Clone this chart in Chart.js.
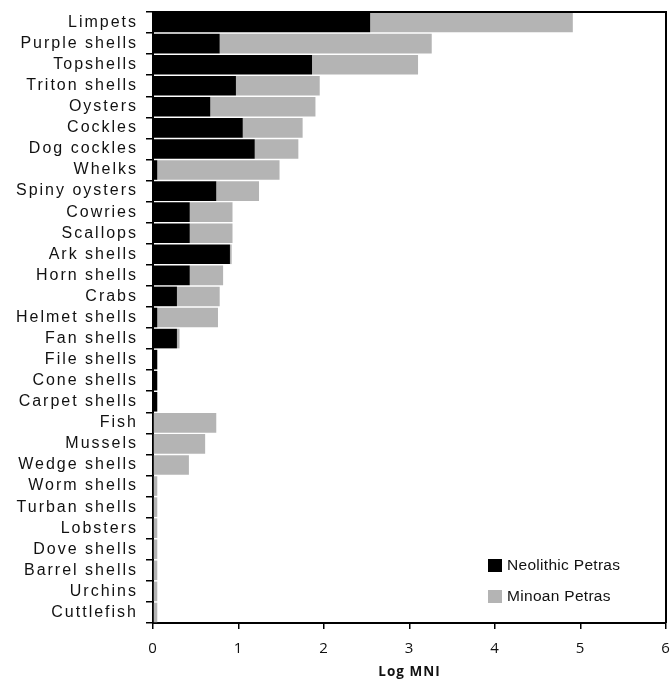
<!DOCTYPE html>
<html>
<head>
<meta charset="utf-8">
<title>Petras shell assemblages</title>
<script src="https://cdn.jsdelivr.net/npm/chart.js@4.4.1/dist/chart.umd.min.js"></script>
<style>
  html, body { margin: 0; padding: 0; background: #fff; }
  #wrap { width: 670px; height: 681px; position: relative; }
</style>
</head>
<body>
<div id="wrap"><canvas id="c"></canvas></div>
<script>
// Taxa, top to bottom
const taxa = [
  'Limpets', 'Purple shells', 'Topshells', 'Triton shells', 'Oysters', 'Cockles',
  'Dog cockles', 'Whelks', 'Spiny oysters', 'Cowries', 'Scallops', 'Ark shells',
  'Horn shells', 'Crabs', 'Helmet shells', 'Fan shells', 'File shells', 'Cone shells',
  'Carpet shells', 'Fish', 'Mussels', 'Wedge shells', 'Worm shells', 'Turban shells',
  'Lobsters', 'Dove shells', 'Barrel shells', 'Urchins', 'Cuttlefish'
];
// Log MNI segment lengths (stacked)
const neolithic = [
  2.54, 0.78, 1.86, 0.97, 0.67, 1.05,
  1.19, 0.05, 0.74, 0.43, 0.43, 0.90,
  0.43, 0.28, 0.05, 0.28, 0.05, 0.05,
  0.05, 0, 0, 0, 0, 0,
  0, 0, 0, 0, 0
];
const minoan = [
  2.37, 2.48, 1.24, 0.98, 1.23, 0.70,
  0.51, 1.43, 0.50, 0.50, 0.50, 0.02,
  0.39, 0.50, 0.71, 0.03, 0, 0,
  0, 0.74, 0.61, 0.42, 0.05, 0.05,
  0.05, 0.05, 0.05, 0.05, 0.05
];
const seriesNames = ['Neolithic Petras', 'Minoan Petras'];
const seriesColors = ['#000000', '#b4b4b4'];
const xTicks = [0, 1, 2, 3, 4, 5, 6];

// Letter spacing: light for the x axis text, wider for the taxon names
const spacingPlugin = {
  id: 'spacing',
  beforeLayout(chart) { chart.ctx.letterSpacing = '1px'; },
  beforeDraw(chart) { chart.ctx.letterSpacing = '1px'; },
  beforeDatasetsDraw(chart) { chart.ctx.letterSpacing = '0px'; },
  afterDatasetsDraw(chart) { chart.ctx.letterSpacing = '2px'; }
};

// Top and right edges of the plot box
const framePlugin = {
  id: 'frame',
  afterDatasetsDraw(chart) {
    const { ctx, chartArea: a } = chart;
    ctx.save();
    ctx.strokeStyle = '#000';
    ctx.lineWidth = 2;
    ctx.beginPath();
    ctx.moveTo(a.left, a.top);
    ctx.lineTo(a.right, a.top);
    ctx.lineTo(a.right, a.bottom);
    ctx.stroke();
    ctx.restore();
  }
};

// Legend placed inside the plot, lower right
const insideLegend = {
  id: 'insideLegend',
  afterDraw(chart) {
    const { ctx, chartArea: a } = chart;
    ctx.save();
    ctx.letterSpacing = '0.3px';
    ctx.font = '15.5px "Liberation Sans", Arial, sans-serif';
    ctx.textBaseline = 'middle';
    ctx.textAlign = 'left';
    const x = a.right - 178;
    const rows = [a.bottom - 64, a.bottom - 33];
    chart.data.datasets.forEach((ds, i) => {
      const y = rows[i];
      ctx.fillStyle = ds.backgroundColor;
      ctx.fillRect(x, y, 14, 13);
      ctx.fillStyle = '#111';
      ctx.fillText(ds.label, x + 19, y + 7);
    });
    ctx.restore();
  }
};

new Chart(document.getElementById('c'), {
  type: 'bar',
  data: {
    labels: taxa,
    datasets: [
      { label: seriesNames[0], data: neolithic, backgroundColor: seriesColors[0],
        barPercentage: 0.93, categoryPercentage: 1, borderWidth: 0 },
      { label: seriesNames[1], data: minoan, backgroundColor: seriesColors[1],
        barPercentage: 0.93, categoryPercentage: 1, borderWidth: 0 }
    ]
  },
  options: {
    indexAxis: 'y',
    responsive: true,
    maintainAspectRatio: false,
    animation: false,
    devicePixelRatio: 1,
    layout: { padding: { top: 12, right: 4, left: 0, bottom: 0 } },
    plugins: { legend: { display: false }, tooltip: { enabled: false } },
    scales: {
      x: {
        type: 'linear',
        stacked: true,
        min: 0,
        max: 6,
        afterBuildTicks(scale) { scale.ticks = xTicks.map(v => ({ value: v })); },
        afterFit(scale) { scale.height = 58; scale.paddingLeft = 0; scale.paddingRight = 0; },
        grid: { drawOnChartArea: false, drawTicks: true, tickLength: 6, color: '#000', lineWidth: 1.5 },
        border: { color: '#000', width: 2 },
        ticks: { font: { family: '"Open Sans", sans-serif', size: 15 }, color: '#111', padding: 11 },
        title: {
          display: true, text: 'Log MNI', color: '#111',
          font: { family: '"Open Sans", sans-serif', size: 13.5, weight: 'bold' },
          padding: { top: 0, bottom: 1 }
        }
      },
      y: {
        type: 'category',
        stacked: true,
        afterFit(scale) { scale.width = 153; scale.paddingTop = 0; scale.paddingBottom = 0; },
        grid: { offset: true, drawOnChartArea: false, drawTicks: true, tickLength: 7, color: '#000', lineWidth: 1.5 },
        border: { color: '#000', width: 2 },
        ticks: { z: 1, font: { family: '"Liberation Sans", Arial, sans-serif', size: 16 }, color: '#111', padding: 8, autoSkip: false }
      }
    }
  },
  plugins: [spacingPlugin, framePlugin, insideLegend]
});
</script>
</body>
</html>
